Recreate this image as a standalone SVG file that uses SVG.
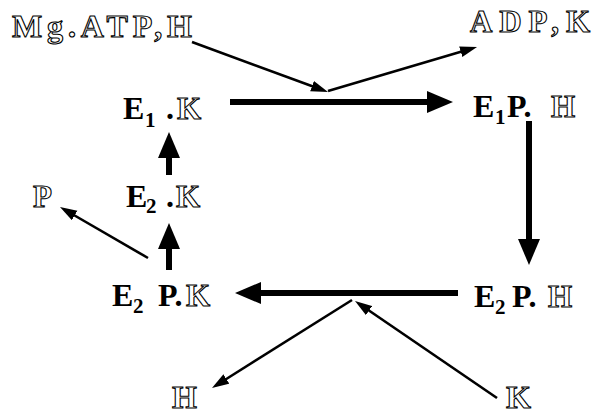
<svg xmlns="http://www.w3.org/2000/svg" width="594" height="414" viewBox="0 0 594 414">
<style>
text{font-family:"Liberation Serif","Times New Roman",serif;}
.b{font-weight:bold;font-size:32px;fill:#000;}
.sub{font-weight:bold;font-size:21px;fill:#000;}
.o{font-weight:bold;font-size:31px;fill:#fff;stroke:#000;stroke-width:1.1px;}
.thick{stroke:#000;stroke-width:6;fill:none;marker-end:url(#hk);}
.thin{stroke:#000;stroke-width:2.6;fill:none;marker-end:url(#hn);}
</style>
<defs>
<marker id="hk" markerUnits="userSpaceOnUse" markerWidth="27" markerHeight="23" refX="1" refY="11" orient="auto">
<path d="M0,0 L26,11 L0,22 z" fill="#000"/>
</marker>
<marker id="hn" markerUnits="userSpaceOnUse" markerWidth="18" markerHeight="12" refX="1" refY="5.5" orient="auto">
<path d="M0,0 L17,5.5 L0,11 z" fill="#000"/>
</marker>
</defs>
<rect width="594" height="414" fill="#fff"/>

<g id="connectors">
<line class="thick" x1="230" y1="102" x2="428" y2="102"/>
<line class="thick" x1="529" y1="121" x2="529" y2="240"/>
<line class="thick" x1="458" y1="293" x2="260" y2="293"/>
<line class="thick" x1="169" y1="270" x2="169" y2="248"/>
<line class="thick" x1="169" y1="175" x2="169" y2="157"/>
<line class="thin" x1="192" y1="42" x2="313" y2="86.5"/>
<line class="thin" x1="328" y1="91" x2="461.7" y2="51.5"/>
<line class="thin" x1="148" y1="258" x2="73.8" y2="215"/>
<line class="thin" x1="352" y1="300" x2="225.5" y2="379.5"/>
<line class="thin" x1="497" y1="398" x2="368.2" y2="310"/>
</g>

<g id="mgatp"><text class="o" x="12" y="37" textLength="180" lengthAdjust="spacing" style="font-size:32px">Mg.ATP,H</text></g>
<g id="adpk"><text class="o" x="470" y="32" textLength="120" lengthAdjust="spacing" style="font-size:31px">ADP,K</text></g>

<g id="e1k">
<text class="b" x="123" y="119">E</text>
<text class="sub" x="145" y="127">1</text>
<text class="b" x="166" y="119">.</text>
<text class="o" x="177" y="119">K</text>
</g>

<g id="e1ph">
<text class="b" x="473" y="117">E</text>
<text class="sub" x="495" y="124">1</text>
<text class="b" x="507" y="117">P.</text>
<text class="o" x="551" y="117">H</text>
</g>

<g id="e2k">
<text class="b" x="126" y="207">E</text>
<text class="sub" x="146" y="213">2</text>
<text class="b" x="166" y="207">.</text>
<text class="o" x="176" y="207">K</text>
</g>

<g id="p"><text class="o" x="33" y="207">P</text></g>

<g id="e2pk">
<text class="b" x="112" y="306">E</text>
<text class="sub" x="133" y="313">2</text>
<text class="b" x="158" y="306">P.</text>
<text class="o" x="186" y="306">K</text>
</g>

<g id="e2ph">
<text class="b" x="474" y="307">E</text>
<text class="sub" x="495" y="314">2</text>
<text class="b" x="512" y="307">P.</text>
<text class="o" x="548" y="307">H</text>
</g>

<g id="h"><text class="o" x="172" y="408" style="font-size:32px">H</text></g>
<g id="k"><text class="o" x="506" y="408" style="font-size:32px">K</text></g>
</svg>
